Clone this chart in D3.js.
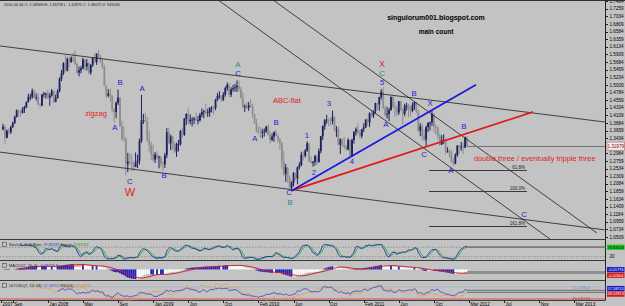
<!DOCTYPE html>
<html>
<head>
<meta charset="utf-8">
<script src="https://cdn.jsdelivr.net/npm/d3@7"></script>
<style>
  body { margin: 0; background: #c3c3c3; }
  svg { display: block; font-family: "Liberation Sans", Arial, sans-serif; }
</style>
</head>
<body>
<div id="chart"></div>
<script>
// EUR/USD weekly bars, first bar = week of 2007-08-06, open = previous close
const firstWeek = "2007-08-06";
const firstOpen = 1.370;

const closes = [
  // 2007
  1.377,1.344,1.365,1.361,1.376,1.388,1.406,1.426,1.420,1.418,1.429,1.435,1.450,1.465,1.465,1.483,1.463,1.465,1.442,1.440,1.472,1.475,
  // 2008
  1.475,1.463,1.469,1.483,1.450,1.462,1.482,1.519,1.535,1.565,1.543,1.578,1.568,1.581,1.579,1.562,1.537,1.544,1.550,1.576,1.555,1.565,1.537,1.560,1.580,1.568,
  1.593,1.585,1.568,1.553,1.497,1.469,1.475,1.468,1.428,1.421,1.448,1.463,1.378,1.342,1.341,1.268,1.274,1.272,1.268,1.258,1.271,1.277,1.335,1.395,1.397,1.392,
  // 2009
  1.337,1.322,1.296,1.280,1.295,1.286,1.287,1.267,1.266,1.293,1.361,1.328,1.348,1.318,1.304,1.326,1.326,1.364,1.353,1.401,1.415,1.393,1.398,1.398,1.401,1.395,
  1.396,1.412,1.420,1.423,1.419,1.420,1.432,1.434,1.432,1.457,1.468,1.469,1.456,1.472,1.491,1.501,1.472,1.488,1.491,1.494,1.498,1.488,1.463,1.435,1.438,1.433,
  // 2010
  1.441,1.438,1.414,1.387,1.364,1.363,1.362,1.362,1.363,1.377,1.353,1.338,1.348,1.361,1.350,1.339,1.330,1.275,1.237,1.257,1.227,1.196,1.211,1.239,1.224,1.257,
  1.264,1.294,1.291,1.306,1.328,1.275,1.270,1.273,1.290,1.272,1.305,1.349,1.379,1.396,1.398,1.396,1.394,1.404,1.369,1.369,1.324,1.339,1.323,1.318,1.310,1.338,
  // 2011
  1.291,1.338,1.362,1.369,1.358,1.350,1.370,1.375,1.398,1.390,1.418,1.410,1.423,1.447,1.443,1.465,1.481,1.431,1.412,1.415,1.427,1.465,1.435,1.431,1.419,1.452,
  1.426,1.415,1.439,1.439,1.429,1.424,1.439,1.449,1.421,1.365,1.379,1.350,1.339,1.376,1.388,1.389,1.415,1.377,1.376,1.352,1.324,1.338,1.338,1.304,1.305,1.296,
  // 2012
  1.272,1.268,1.293,1.321,1.316,1.319,1.315,1.345,1.320
];
const highs = [
  1.386,1.381,1.369,1.373,1.380,1.392,1.410,1.428,1.428,1.425,1.435,1.439,1.452,1.475,1.474,1.490,1.487,1.476,1.476,1.447,1.474,1.480,
  1.478,1.487,1.477,1.489,1.485,1.472,1.488,1.523,1.545,1.568,1.590,1.582,1.585,1.585,1.597,1.602,1.567,1.555,1.557,1.581,1.577,1.577,1.569,1.562,1.582,1.594,
  1.594,1.604,1.590,1.578,1.560,1.500,1.488,1.490,1.471,1.432,1.452,1.487,1.463,1.395,1.378,1.346,1.300,1.299,1.296,1.277,1.301,1.294,1.342,1.471,1.415,1.418,
  1.407,1.364,1.333,1.325,1.302,1.305,1.292,1.291,1.276,1.300,1.373,1.374,1.354,1.350,1.333,1.330,1.338,1.368,1.375,1.403,1.417,1.434,1.414,1.406,1.406,1.419,
  1.409,1.418,1.431,1.427,1.446,1.430,1.435,1.438,1.438,1.460,1.477,1.482,1.470,1.479,1.496,1.508,1.506,1.494,1.501,1.504,1.514,1.514,1.496,1.479,1.443,1.450,
  1.451,1.458,1.445,1.416,1.400,1.378,1.376,1.371,1.372,1.380,1.384,1.365,1.357,1.364,1.369,1.354,1.344,1.331,1.306,1.267,1.244,1.233,1.216,1.243,1.242,1.259,
  1.272,1.303,1.304,1.311,1.334,1.325,1.290,1.276,1.294,1.295,1.313,1.350,1.381,1.400,1.412,1.402,1.406,1.425,1.409,1.379,1.378,1.343,1.344,1.347,1.323,1.343,
  1.338,1.342,1.363,1.375,1.387,1.367,1.371,1.387,1.400,1.403,1.419,1.425,1.425,1.448,1.449,1.466,1.488,1.494,1.439,1.436,1.433,1.467,1.470,1.450,1.441,1.453,
  1.454,1.432,1.445,1.448,1.444,1.442,1.449,1.452,1.450,1.428,1.388,1.385,1.370,1.380,1.391,1.392,1.425,1.416,1.384,1.377,1.357,1.352,1.355,1.343,1.316,1.311,
  1.308,1.284,1.299,1.323,1.323,1.332,1.330,1.348,1.349
];
const lows = [
  1.366,1.326,1.343,1.353,1.356,1.374,1.385,1.404,1.406,1.407,1.416,1.418,1.432,1.449,1.455,1.460,1.463,1.455,1.442,1.433,1.438,1.464,
  1.460,1.460,1.439,1.466,1.447,1.452,1.460,1.479,1.512,1.530,1.540,1.541,1.552,1.566,1.570,1.560,1.533,1.526,1.535,1.547,1.543,1.544,1.532,1.531,1.554,1.566,
  1.560,1.578,1.565,1.549,1.497,1.460,1.464,1.451,1.420,1.390,1.402,1.441,1.376,1.334,1.334,1.233,1.243,1.263,1.247,1.246,1.266,1.255,1.265,1.329,1.385,1.390,
  1.331,1.303,1.279,1.274,1.270,1.280,1.254,1.258,1.246,1.255,1.284,1.325,1.308,1.307,1.299,1.288,1.304,1.321,1.346,1.350,1.382,1.385,1.384,1.378,1.385,1.395,
  1.384,1.392,1.405,1.402,1.414,1.406,1.407,1.419,1.414,1.426,1.453,1.460,1.450,1.453,1.466,1.484,1.463,1.465,1.481,1.481,1.480,1.482,1.460,1.431,1.421,1.429,
  1.424,1.434,1.404,1.386,1.360,1.355,1.344,1.343,1.348,1.359,1.351,1.327,1.334,1.333,1.348,1.329,1.309,1.252,1.232,1.214,1.211,1.196,1.188,1.201,1.219,1.207,
  1.251,1.260,1.278,1.286,1.303,1.272,1.268,1.259,1.262,1.265,1.275,1.298,1.338,1.368,1.386,1.379,1.380,1.384,1.361,1.347,1.322,1.297,1.318,1.312,1.306,1.307,
  1.290,1.287,1.327,1.351,1.355,1.343,1.343,1.361,1.373,1.380,1.376,1.404,1.403,1.416,1.427,1.424,1.458,1.431,1.406,1.401,1.394,1.424,1.433,1.406,1.409,1.412,
  1.424,1.384,1.408,1.425,1.405,1.408,1.420,1.427,1.418,1.362,1.349,1.336,1.334,1.317,1.361,1.366,1.379,1.360,1.353,1.339,1.320,1.326,1.326,1.295,1.300,1.286,
  1.271,1.262,1.266,1.288,1.297,1.306,1.297,1.314,1.320
];
const lastPrice = 1.31979;

const priceTicks = ["1.7484","1.7259","1.7034","1.6809","1.6584","1.6359","1.6134","1.5909","1.5684","1.5459","1.5234",
  "1.5009","1.4784","1.4559","1.4334","1.4109","1.3884","1.3659","1.3434","1.2984","1.2759","1.2534","1.2309","1.2084",
  "1.1859","1.1634","1.1409","1.1184","1.0959","1.0734","1.0509"];
const timeTickDates = ["2007-07-30","2007-09-10","2008-01-14","2008-05-19","2008-09-22","2009-01-26","2009-06-01","2009-10-05",
  "2010-02-08","2010-06-14","2010-10-18","2011-02-21","2011-06-27","2011-10-31","2012-03-05","2012-07-09","2012-11-12","2013-03-18"];
const timeTickLabels = ["2007","Sep","Jan 2008","May","Sep","Jan 2009","Jun","Oct","Feb 2010","Jun","Oct","Feb 2011","Jun",
  "Oct","Mar 2012","Jul","Nov","Mar 2013"];

// wave labels: [bar index, price, text, colour kind]
const waveLabels = [
  [60, 1.510, "B", "blue"], [71.3, 1.492, "A", "blue"], [57.4, 1.376, "A", "blue"], [65.1, 1.217, "C", "blue"],
  [82.6, 1.234, "B", "blue"], [120.5, 1.534, "C", "blue"], [129.2, 1.344, "A", "blue"], [140, 1.391, "B", "blue"],
  [155.9, 1.353, "1", "blue"], [159.5, 1.243, "2", "blue"], [167.2, 1.447, "3", "blue"], [179, 1.276, "4", "blue"],
  [194.4, 1.508, "5", "blue"], [196.4, 1.385, "A", "blue"], [210.8, 1.477, "B", "blue"], [219, 1.447, "X", "blue"],
  [215.9, 1.297, "C", "blue"], [229.7, 1.249, "A", "blue"], [236.4, 1.379, "B", "blue"], [267.2, 1.119, "C", "blue"],
  [146.7, 1.183, "C", "blue"],
  [120.5, 1.562, "A", "teal"], [147.2, 1.155, "B", "teal"], [194.4, 1.535, "C", "teal"],
  [65.1, 1.185, "W", "red"], [194.4, 1.563, "X", "red"]
];
const patternLabels = [
  [47.7, 1.418, "zigzag"], [145.6, 1.456, "ABC-flat"]
];
const noteLabel = [241.5, 1.285, "double three / eventually tripple three"];

// trend lines: pairs of [bar index, price]
const channelLines = [
  [[-1.5, 1.616], [308.7, 1.391]],
  [[-1.5, 1.302], [308.7, 1.072]],
  [[110.3, 1.752], [284.1, 1.030]],
  [[138.5, 1.752], [304.6, 1.063]]
];
const blueLine = [[148, 1.188], [242.6, 1.501]];
const redLine = [[148, 1.188], [271.8, 1.421]];
const fibRange = [218.5, 268.7];
const fibLevels = [1.249, 1.187, 1.083];
const fibTexts = ["61.8%", "100.0%", "161.8%"];

// ---------------------------------------------------------------

const width = 625, height = 306;
const plotRight = 605.5;
const colors = { blue: "#2424cc", teal: "#2a8c7c", red: "#e42020" };

const svg = d3.select("#chart").append("svg")
    .attr("width", width)
    .attr("height", height);

svg.append("rect").attr("width", width).attr("height", height).attr("fill", "#c3c3c3");

const x = d3.scaleLinear().domain([0, 309]).range([3, plotRight]);
const y = d3.scaleLinear().domain([1.0509, 1.7484]).range([237, 1.2]);

const dayMs = 864e5;
const weekIndex = s => (Date.parse(s) - Date.parse(firstWeek)) / (7 * dayMs);

const bars = closes.map((c, i) => {
    const o = i ? closes[i - 1] : firstOpen;
    return { i, o, c, h: Math.max(highs[i], o, c), l: Math.min(lows[i], o, c) };
});

// clip areas
const defs = svg.append("defs");
defs.append("clipPath").attr("id", "mainClip")
    .append("rect").attr("x", 0).attr("y", 1).attr("width", plotRight).attr("height", 238);

const main = svg.append("g").attr("clip-path", "url(#mainClip)");

// candles
// ---------------------------------------------------------------
const upColor = "#1c2060", downColor = "#8e8e8e";
main.selectAll(".wick")
    .data(bars)
    .join("line")
        .attr("class", "wick")
        .attr("x1", d => x(d.i)).attr("x2", d => x(d.i))
        .attr("y1", d => y(d.h)).attr("y2", d => y(d.l))
        .attr("stroke", d => d.c >= d.o ? upColor : downColor)
        .attr("stroke-width", 1);
main.selectAll(".body")
    .data(bars)
    .join("rect")
        .attr("class", "body")
        .attr("x", d => x(d.i) - 0.9)
        .attr("width", 1.8)
        .attr("y", d => y(Math.max(d.o, d.c)))
        .attr("height", d => Math.max(0.8, Math.abs(y(d.o) - y(d.c))))
        .attr("fill", d => d.c >= d.o ? upColor : downColor);

// trend lines
// ---------------------------------------------------------------
const seg = d3.line().x(d => x(d[0])).y(d => y(d[1]));
main.selectAll(".channel")
    .data(channelLines)
    .join("path")
        .attr("class", "channel")
        .attr("d", seg)
        .attr("stroke", "#1e1e1e")
        .attr("stroke-width", 0.8)
        .attr("fill", "none");
main.append("path").attr("d", seg(redLine))
    .attr("stroke", "#e41818").attr("stroke-width", 1.7).attr("fill", "none");
main.append("path").attr("d", seg(blueLine))
    .attr("stroke", "#1818e0").attr("stroke-width", 1.7).attr("fill", "none");

// fibonacci levels
main.selectAll(".fib")
    .data(fibLevels)
    .join("line")
        .attr("class", "fib")
        .attr("x1", x(fibRange[0])).attr("x2", x(fibRange[1]))
        .attr("y1", d => Math.round(y(d)) + 0.5).attr("y2", d => Math.round(y(d)) + 0.5)
        .attr("stroke", "#3a3a3a").attr("stroke-width", 1);
main.selectAll(".fibText")
    .data(fibLevels)
    .join("text")
        .attr("class", "fibText")
        .attr("x", x(fibRange[1]) - 2)
        .attr("y", d => Math.round(y(d)) - 1.5)
        .attr("text-anchor", "end")
        .attr("font-size", 4.5)
        .attr("fill", "#222")
        .text((d, i) => fibTexts[i]);

// last price line
main.append("line")
    .attr("x1", x(bars.length - 1)).attr("x2", plotRight)
    .attr("y1", Math.round(y(lastPrice)) + 0.5).attr("y2", Math.round(y(lastPrice)) + 0.5)
    .attr("stroke", "#707070").attr("stroke-width", 1.2);

// labels
// ---------------------------------------------------------------
main.selectAll(".wave")
    .data(waveLabels)
    .join("text")
        .attr("class", "wave")
        .attr("x", d => x(d[0]))
        .attr("y", d => y(d[1]))
        .attr("dy", "0.36em")
        .attr("text-anchor", "middle")
        .attr("font-size", d => d[2] === "W" ? 11 : (d[3] === "red" ? 8.5 : 7.8))
        .attr("fill", d => colors[d[3]])
        .text(d => d[2]);
main.selectAll(".pattern")
    .data(patternLabels)
    .join("text")
        .attr("class", "pattern")
        .attr("x", d => x(d[0]))
        .attr("y", d => y(d[1]))
        .attr("dy", "0.36em")
        .attr("text-anchor", "middle")
        .attr("font-size", 7.5)
        .attr("fill", colors.red)
        .text(d => d[2]);
main.append("text")
    .attr("x", x(noteLabel[0])).attr("y", y(noteLabel[1]))
    .attr("dy", "0.36em")
    .attr("font-size", 7.4)
    .attr("fill", colors.red)
    .text(noteLabel[2]);

svg.append("text").attr("x", 436).attr("y", 17).attr("dy", "0.36em")
    .attr("text-anchor", "middle").attr("font-size", 7).attr("font-weight", "bold")
    .text("singulorum001.blogspot.com");
svg.append("text").attr("x", 436).attr("y", 32).attr("dy", "0.36em")
    .attr("text-anchor", "middle").attr("font-size", 6.5).attr("font-weight", "bold")
    .text("main count");
svg.append("text").attr("x", 4).attr("y", 6)
    .attr("font-size", 3.8).attr("fill", "#222")
    .text("2010-04-06  O: 1.34908  H: 1.36758  L: 1.32875  C: 1.36075  V: 943240");

// price axis
// ---------------------------------------------------------------
svg.append("line").attr("x1", plotRight).attr("x2", plotRight).attr("y1", 0).attr("y2", 300)
    .attr("stroke", "#202020").attr("stroke-width", 1);
const pAxis = svg.append("g");
pAxis.selectAll("line")
    .data(priceTicks)
    .join("line")
        .attr("x1", plotRight).attr("x2", plotRight + 2.5)
        .attr("y1", d => Math.round(y(+d)) + 0.5).attr("y2", d => Math.round(y(+d)) + 0.5)
        .attr("stroke", "#202020");
pAxis.selectAll("text")
    .data(priceTicks)
    .join("text")
        .attr("x", plotRight + 4).attr("y", d => y(+d))
        .attr("dy", "0.36em")
        .attr("font-size", 4.6)
        .text(d => d);
svg.append("rect").attr("x", plotRight + 1.5).attr("y", y(lastPrice) - 4).attr("width", 17.5).attr("height", 8)
    .attr("fill", "#f6eeee").attr("stroke", "#c06060").attr("stroke-width", 0.6);
svg.append("text").attr("x", plotRight + 10.2).attr("y", y(lastPrice)).attr("dy", "0.36em")
    .attr("text-anchor", "middle").attr("font-size", 4.6).attr("fill", "#7a0000")
    .text(lastPrice.toFixed(5));

// indicators
// ---------------------------------------------------------------
function sma(arr, n) {
    return arr.map((v, i) => {
        const w = arr.slice(Math.max(0, i - n + 1), i + 1);
        if (w.length < n || w.some(q => q == null)) return null;
        return d3.mean(w);
    });
}
function ema(arr, n) {
    const k = 2 / (n + 1);
    let prev = arr[0];
    return arr.map(v => (prev = prev + k * (v - prev)));
}

// stochastic 8,3,3
const stMain = closes.map((c, i) => {
    if (i < 9) return null;
    let num = 0, den = 0;
    for (let j = i - 2; j <= i; j++) {
        const ll = d3.min(lows.slice(j - 7, j + 1));
        const hh = d3.max(highs.slice(j - 7, j + 1));
        num += closes[j] - ll;
        den += hh - ll;
    }
    return den ? 100 * num / den : 50;
});
const stSig = sma(stMain, 3);

// macd 12,26,9
const ema12 = ema(closes, 12), ema26 = ema(closes, 26);
const macd = ema12.map((v, i) => v - ema26[i]);
const macdSig = sma(macd, 9);

// rsi 14 and ultimate oscillator 7,14,28
const rsi = closes.map((c, i) => {
    if (i < 14) return null;
    let g = 0, l = 0;
    for (let j = i - 13; j <= i; j++) {
        const dlt = closes[j] - closes[j - 1];
        if (dlt > 0) g += dlt; else l -= dlt;
    }
    return l === 0 ? 100 : 100 - 100 / (1 + g / l);
});
const prevClose = i => i ? closes[i - 1] : firstOpen;
const bp = closes.map((c, i) => c - Math.min(lows[i], prevClose(i)));
const tr = closes.map((c, i) => Math.max(highs[i], prevClose(i)) - Math.min(lows[i], prevClose(i)));
const uo = closes.map((c, i) => {
    if (i < 28) return null;
    const avg = n => d3.sum(bp.slice(i - n + 1, i + 1)) / d3.sum(tr.slice(i - n + 1, i + 1));
    return 100 * (4 * avg(7) + 2 * avg(14) + avg(28)) / 7;
});

const panels = [
    { top: 240, bottom: 260 },
    { top: 261, bottom: 280 },
    { top: 281, bottom: 300 }
];
panels.forEach((p, k) => {
    defs.append("clipPath").attr("id", "pc" + k)
        .append("rect").attr("x", 0).attr("y", p.top + 0.5).attr("width", plotRight).attr("height", p.bottom - p.top);
});
[239.5, 260.5, 280.5, 300.5].forEach(v => {
    svg.append("line").attr("x1", 0).attr("x2", plotRight).attr("y1", v).attr("y2", v)
        .attr("stroke", "#3c3c3c").attr("stroke-width", 1);
});

const lastX = x(bars.length - 1);
function series(g, data, yS, color, w) {
    g.append("path")
        .datum(data)
        .attr("d", d3.line().defined(d => d != null).x((d, i) => x(i)).y(d => yS(d)).curve(d3.curveMonotoneX))
        .attr("fill", "none").attr("stroke", color).attr("stroke-width", w || 1);
}
function lastLine(g, v, yS) {
    g.append("line").attr("x1", lastX).attr("x2", plotRight)
        .attr("y1", yS(v)).attr("y2", yS(v)).attr("stroke", "#7c7c7c").attr("stroke-width", 1.3);
}
function valueBox(v, cy, fill, txt) {
    svg.append("rect").attr("x", plotRight + 1.5).attr("y", cy - 2.6).attr("width", 17.5).attr("height", 5.2)
        .attr("fill", fill);
    svg.append("text").attr("x", plotRight + 10.2).attr("y", cy).attr("dy", "0.34em")
        .attr("text-anchor", "middle").attr("font-size", 3.9).attr("fill", txt).text(v.toFixed(5));
}
function panelTitle(g, p, parts) {
    const t = g.append("text").attr("x", 9).attr("y", p.top + 5.5).attr("font-size", 3.8);
    parts.forEach(q => t.append("tspan").attr("fill", q[1]).text(q[0]));
    g.append("rect").attr("x", 2.5).attr("y", p.top + 2.2).attr("width", 4).attr("height", 4)
        .attr("fill", "none").attr("stroke", "#333").attr("stroke-width", 0.5);
}
// two stacked value boxes that must not overlap
function boxPair(a, b, yS, lo, hi) {
    let ya = yS(a.v), yb = yS(b.v);
    if (Math.abs(ya - yb) < 5.6) {
        const mid = (ya + yb) / 2;
        const s = ya <= yb ? -1 : 1;
        ya = mid + s * 2.8; yb = mid - s * 2.8;
    }
    const shift = Math.max(0, lo - Math.min(ya, yb)) - Math.max(0, Math.max(ya, yb) - hi);
    valueBox(a.v, ya + shift, a.fill, a.txt);
    valueBox(b.v, yb + shift, b.fill, b.txt);
}

// panel 1: stochastic
const p1 = panels[0];
const y1 = d3.scaleLinear().domain([0, 100]).range([p1.bottom, p1.top + 4]);
const g1 = svg.append("g").attr("clip-path", "url(#pc0)");
[80, 20].forEach(v => g1.append("line").attr("x1", 0).attr("x2", plotRight)
    .attr("y1", y1(v)).attr("y2", y1(v)).attr("stroke", "#7a7a7a").attr("stroke-dasharray", "1.5,1.5").attr("stroke-width", 0.7));
series(g1, stSig, y1, "#28c028", 1);
series(g1, stMain, y1, "#3030b8", 1);
lastLine(g1, stMain[stMain.length - 1], y1);
lastLine(g1, stSig[stSig.length - 1], y1);
panelTitle(svg, p1, [["Stoch(8, 3, 3)  Main: ", "#222"], [stMain[stMain.length - 1].toFixed(5), "#3030b8"],
    ["   Signal: ", "#222"], [stSig[stSig.length - 1].toFixed(5), "#20a020"]]);
valueBox(stMain[stMain.length - 1], Math.max(p1.top + 3.5, y1(stMain[stMain.length - 1])), "#20c020", "#002000");
svg.append("text").attr("x", plotRight + 4).attr("y", y1(20)).attr("dy", "0.36em").attr("font-size", 4.6).text("20");

// panel 2: macd
const p2 = panels[1];
const mExt = d3.extent(macd.concat(macdSig.filter(v => v != null)));
const y2 = d3.scaleLinear().domain(mExt).range([p2.bottom - 1, p2.top + 3]);
const g2 = svg.append("g").attr("clip-path", "url(#pc1)");
g2.selectAll("rect")
    .data(macd)
    .join("rect")
        .attr("x", (d, i) => x(i) - 0.9)
        .attr("width", 1.8)
        .attr("y", d => Math.min(y2(d), y2(0)))
        .attr("height", d => Math.abs(y2(d) - y2(0)))
        .attr("fill", (d, i) => i && Math.abs(d) > Math.abs(macd[i - 1]) ? "#2020c0" : "#ffffff");
series(g2, macdSig, y2, "#d02020", 1);
lastLine(g2, macd[macd.length - 1], y2);
lastLine(g2, macdSig[macdSig.length - 1], y2);
panelTitle(svg, p2, [["MACD(12, 26, 9): ", "#222"], [macd[macd.length - 1].toFixed(5), "#2020c0"],
    ["  Signal: ", "#222"], [macdSig[macdSig.length - 1].toFixed(5), "#d02020"]]);
boxPair({ v: macd[macd.length - 1], fill: "#1818c0", txt: "#ffffff" },
        { v: macdSig[macdSig.length - 1], fill: "#d01818", txt: "#ffffff" }, y2, p2.top + 3, p2.bottom - 3);

// panel 3: oscillators
const p3 = panels[2];
const y3 = d3.scaleLinear().domain([20.1, 72.2]).range([p3.bottom - 1, p3.top + 6]);
const g3 = svg.append("g").attr("clip-path", "url(#pc2)");
g3.append("line").attr("x1", 0).attr("x2", plotRight).attr("y1", y3(72.2)).attr("y2", y3(72.2))
    .attr("stroke", "#a8bccc").attr("stroke-width", 1);
g3.append("line").attr("x1", 0).attr("x2", plotRight).attr("y1", y3(20.1)).attr("y2", y3(20.1))
    .attr("stroke", "#e04848").attr("stroke-width", 1);
series(g3, rsi, y3, "#e8a050", 0.9);
series(g3, uo, y3, "#4848c8", 0.9);
lastLine(g3, rsi[rsi.length - 1], y3);
lastLine(g3, uo[uo.length - 1], y3);
svg.append("text").attr("x", 590).attr("y", y3(72.2)).attr("dy", "0.36em").attr("text-anchor", "end")
    .attr("font-size", 4.2).attr("fill", "#7090b0").text("72.23904");
svg.append("text").attr("x", 590).attr("y", y3(20.1) - 0.5).attr("dy", "0.36em").attr("text-anchor", "end")
    .attr("font-size", 4.2).attr("fill", "#d03030").text("20.09743");
panelTitle(svg, p3, [["ULTOSC(7, 14, 28): ", "#222"], [uo[uo.length - 1].toFixed(5), "#4848c8"],
    ["   RSI(14): ", "#222"], [rsi[rsi.length - 1].toFixed(5), "#d08030"]]);
boxPair({ v: rsi[rsi.length - 1], fill: "#d01818", txt: "#ffffff" },
        { v: uo[uo.length - 1], fill: "#1818c0", txt: "#ffffff" }, y3, p3.top + 3, p3.bottom - 3);

// time axis
// ---------------------------------------------------------------
const tAxis = svg.append("g");
tAxis.selectAll("line")
    .data(timeTickDates)
    .join("line")
        .attr("x1", d => Math.round(x(weekIndex(d))) + 0.5).attr("x2", d => Math.round(x(weekIndex(d))) + 0.5)
        .attr("y1", 300.5).attr("y2", 303)
        .attr("stroke", "#202020");
tAxis.selectAll("text")
    .data(timeTickDates)
    .join("text")
        .attr("x", d => Math.max(0.5, x(weekIndex(d)) + 1.5))
        .attr("y", 305.6)
        .attr("font-size", 4.6)
        .text((d, i) => timeTickLabels[i]);

svg.append("line").attr("x1", 0).attr("x2", width).attr("y1", 0.5).attr("y2", 0.5).attr("stroke", "#303030");
</script>
</body>
</html>
